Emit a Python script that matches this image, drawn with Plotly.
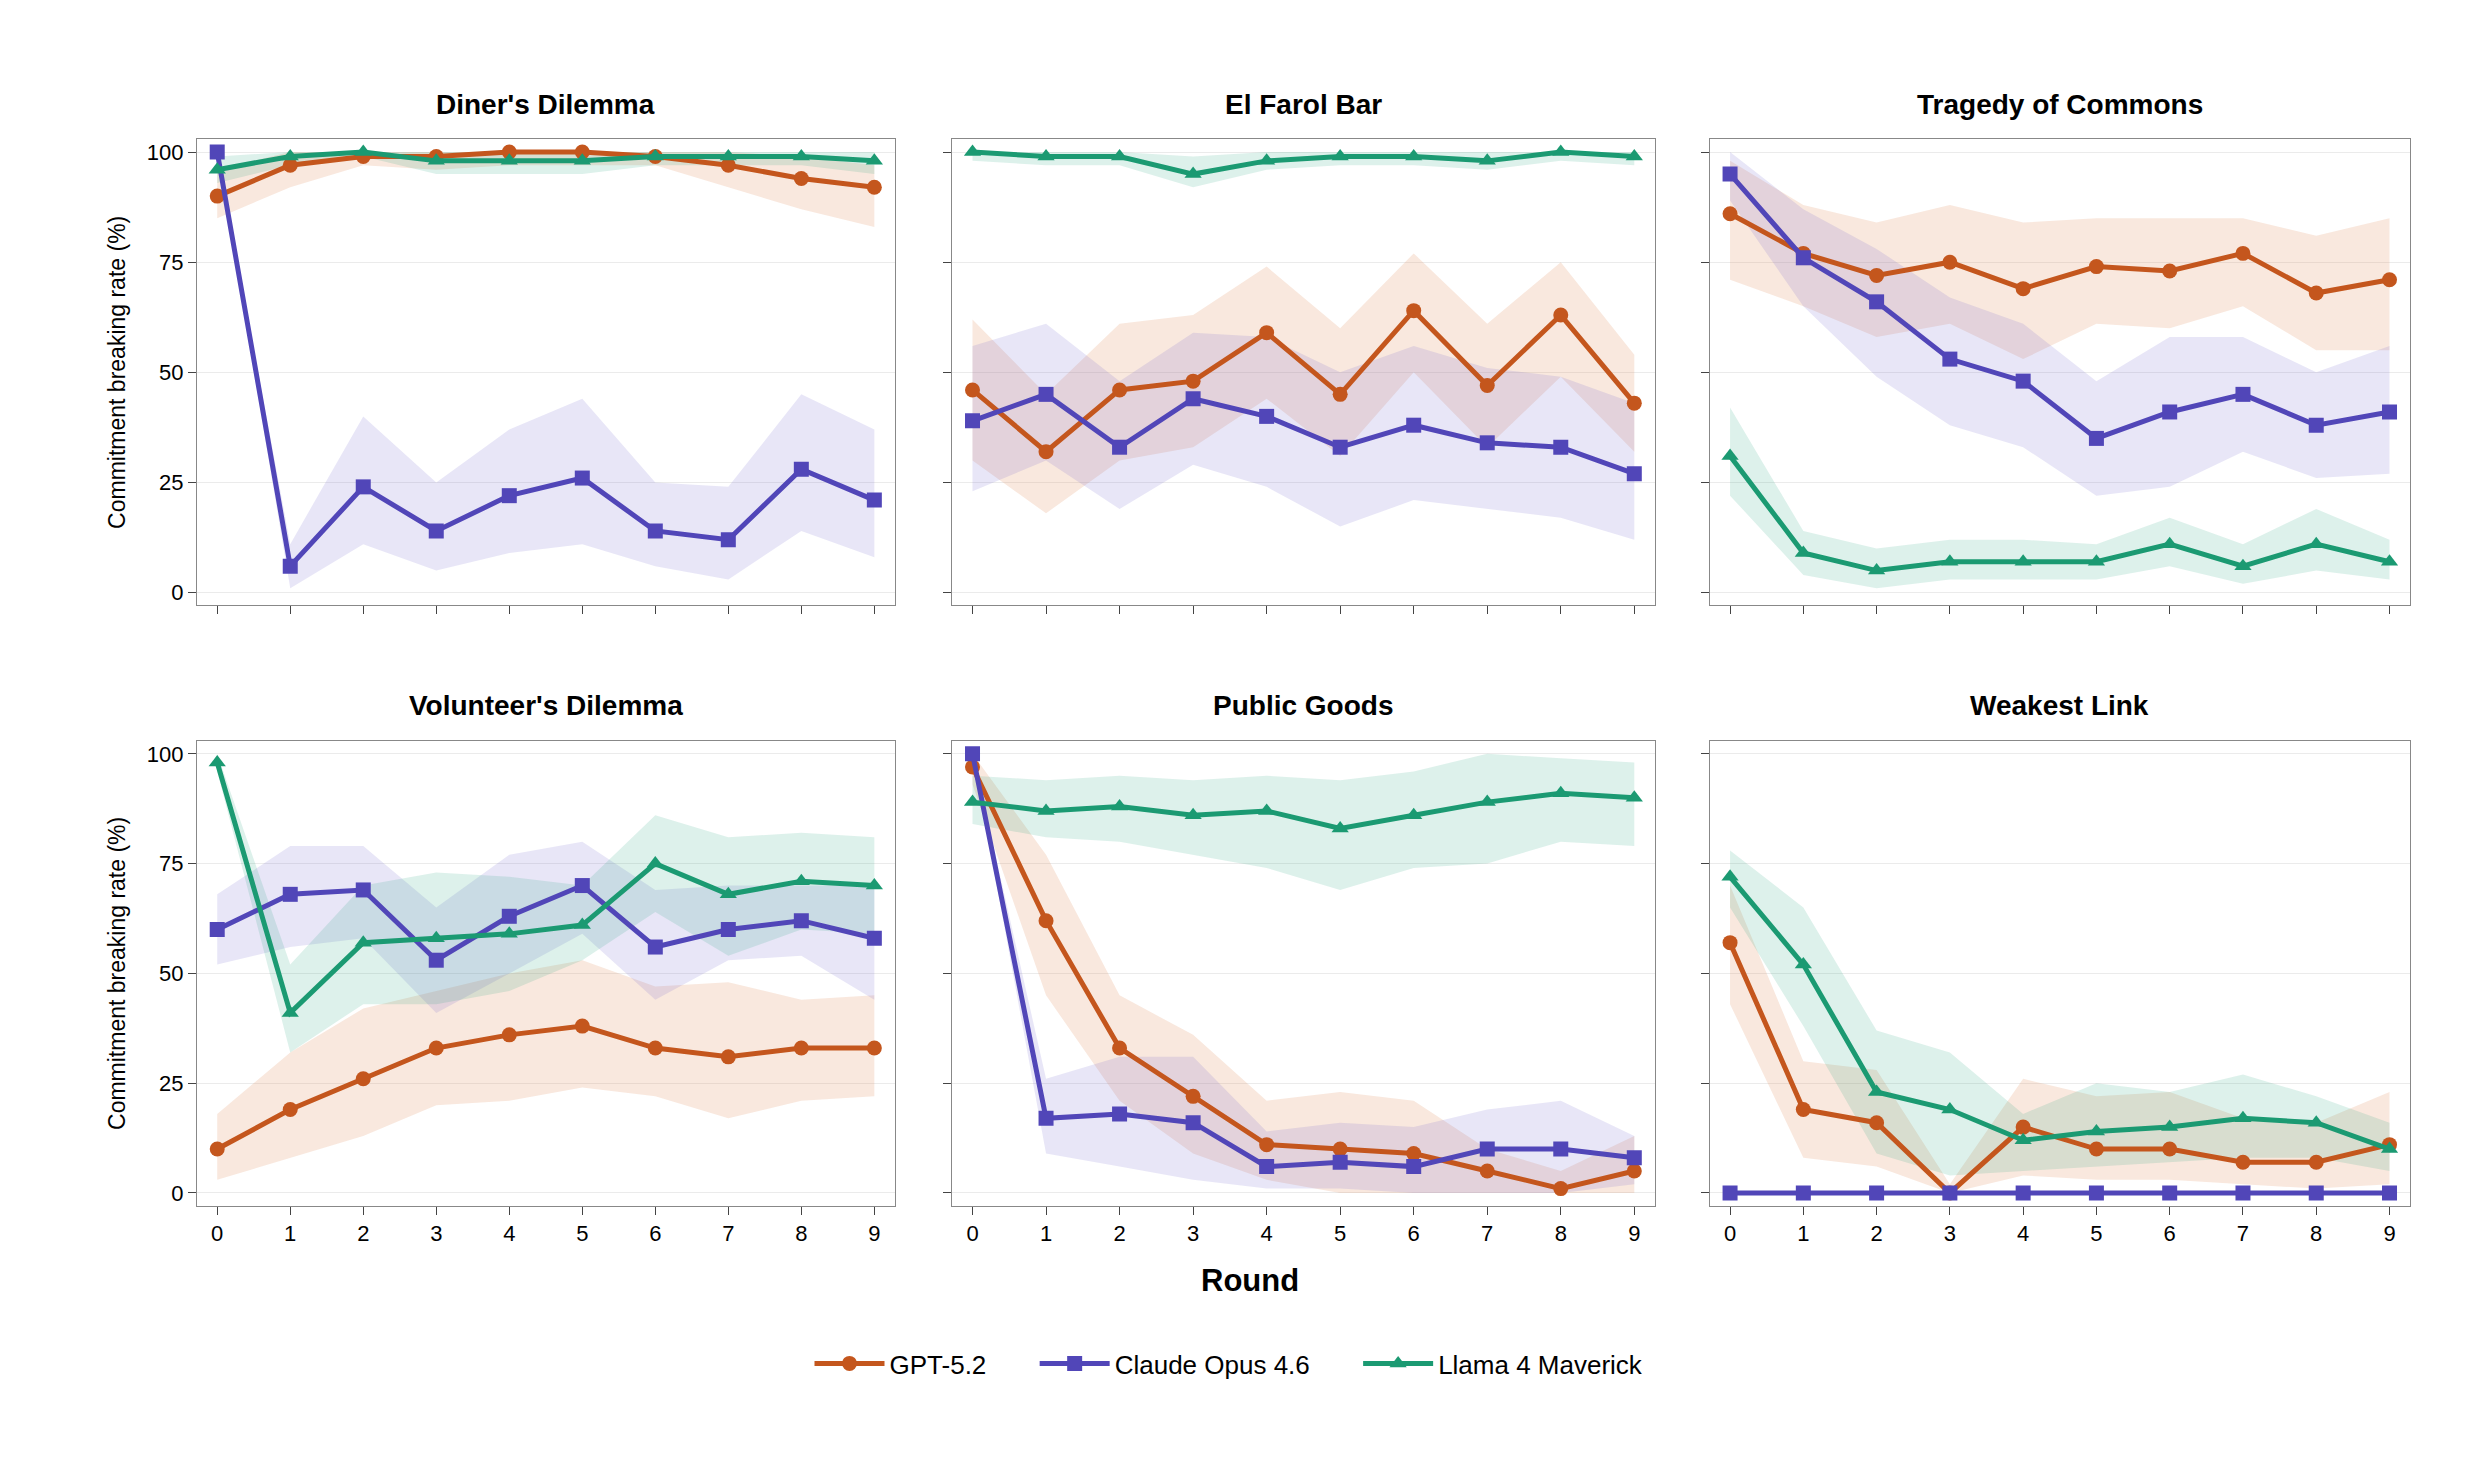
import plotly.graph_objects as go
from plotly.subplots import make_subplots

ROUNDS = list(range(10))
GAMES = ["Diner's Dilemma", "El Farol Bar", "Tragedy of Commons",
         "Volunteer's Dilemma", "Public Goods", "Weakest Link"]
MODELS = ["GPT-5.2", "Claude Opus 4.6", "Llama 4 Maverick"]

# mean, lower band, upper band per game (order of GAMES)
gpt_mean = [[90, 97, 99, 99, 100, 100, 99, 97, 94, 92],
            [46, 32, 46, 48, 59, 45, 64, 47, 63, 43],
            [86, 77, 72, 75, 69, 74, 73, 77, 68, 71],
            [10, 19, 26, 33, 36, 38, 33, 31, 33, 33],
            [97, 62, 33, 22, 11, 10, 9, 5, 1, 5],
            [57, 19, 16, 0, 15, 10, 10, 7, 7, 11]]
gpt_lo = [[85, 92, 97, 96, 97, 97, 97, 92, 87, 83],
          [30, 18, 30, 33, 44, 31, 50, 33, 49, 32],
          [71, 65, 58, 61, 53, 61, 60, 65, 55, 55],
          [3, 8, 13, 20, 21, 24, 22, 17, 21, 22],
          [93, 45, 21, 9, 3, 0, 0, 0, 0, 0],
          [43, 8, 6, 0, 4, 3, 3, 2, 1, 2]]
gpt_hi = [[96, 100, 100, 100, 100, 100, 100, 100, 99, 97],
          [62, 45, 61, 63, 74, 60, 77, 61, 75, 54],
          [98, 88, 84, 88, 84, 85, 85, 85, 81, 85],
          [18, 32, 42, 46, 50, 53, 47, 48, 44, 45],
          [100, 77, 45, 36, 21, 23, 21, 10, 5, 13],
          [70, 30, 28, 2, 26, 22, 23, 17, 16, 23]]

claude_mean = [[100, 6, 24, 14, 22, 26, 14, 12, 28, 21],
               [39, 45, 33, 44, 40, 33, 38, 34, 33, 27],
               [95, 76, 66, 53, 48, 35, 41, 45, 38, 41],
               [60, 68, 69, 53, 63, 70, 56, 60, 62, 58],
               [100, 17, 18, 16, 6, 7, 6, 10, 10, 8],
               [0, 0, 0, 0, 0, 0, 0, 0, 0, 0]]
claude_lo = [[100, 1, 11, 5, 9, 11, 6, 3, 14, 8],
             [23, 30, 19, 29, 24, 15, 21, 19, 17, 12],
             [89, 65, 49, 38, 33, 22, 24, 32, 26, 27],
             [52, 56, 58, 41, 50, 59, 44, 53, 54, 44],
             [100, 9, 6, 3, 1, 1, 0, 0, 0, 2],
             [0, 0, 0, 0, 0, 0, 0, 0, 0, 0]]
claude_hi = [[100, 11, 40, 25, 37, 44, 25, 24, 45, 37],
             [56, 61, 48, 59, 58, 50, 56, 51, 49, 43],
             [100, 87, 78, 67, 61, 48, 58, 58, 50, 56],
             [68, 79, 79, 65, 77, 80, 69, 70, 70, 70],
             [100, 26, 31, 31, 14, 16, 15, 19, 21, 13],
             [0, 0, 0, 0, 0, 0, 0, 0, 0, 0]]

llama_mean = [[96, 99, 100, 98, 98, 98, 99, 99, 99, 98],
              [100, 99, 99, 95, 98, 99, 99, 98, 100, 99],
              [31, 9, 5, 7, 7, 7, 11, 6, 11, 7],
              [98, 41, 57, 58, 59, 61, 75, 68, 71, 70],
              [89, 87, 88, 86, 87, 83, 86, 89, 91, 90],
              [72, 52, 23, 19, 12, 14, 15, 17, 16, 10]]
llama_lo = [[93, 97, 99, 95, 95, 95, 97, 97, 97, 95],
            [98, 97, 97, 92, 96, 97, 97, 96, 98, 97],
            [22, 4, 1, 3, 3, 3, 6, 2, 5, 3],
            [96, 32, 43, 43, 46, 53, 64, 54, 60, 59],
            [84, 81, 80, 77, 74, 69, 74, 75, 80, 79],
            [65, 38, 9, 4, 5, 6, 7, 8, 8, 5]]
llama_hi = [[99, 100, 100, 100, 100, 100, 100, 100, 100, 100],
            [100, 100, 100, 99, 100, 100, 100, 100, 100, 100],
            [42, 14, 10, 12, 12, 11, 17, 11, 19, 12],
            [100, 52, 70, 73, 72, 70, 86, 81, 82, 81],
            [95, 94, 95, 94, 95, 94, 96, 100, 99, 98],
            [78, 65, 37, 32, 18, 25, 23, 27, 22, 16]]

series = [
    (MODELS[0], gpt_mean, gpt_lo, gpt_hi, '#C4561D', 'rgba(226,140,90,0.20)', 'circle'),
    (MODELS[1], claude_mean, claude_lo, claude_hi, '#5146B8', 'rgba(110,100,205,0.16)', 'square'),
    (MODELS[2], llama_mean, llama_lo, llama_hi, '#1B9A72', 'rgba(27,158,119,0.15)', 'triangle-up'),
]

fig = make_subplots(rows=2, cols=3)
xdom = [(0.076, 0.357), (0.380, 0.663), (0.685, 0.967)]
ydom = [(0.595, 0.911), (0.188, 0.503)]

for g, game in enumerate(GAMES):
    r, c = g // 3 + 1, g % 3 + 1
    for name, mean, lo, hi, color, fill, sym in series:
        fig.add_trace(go.Scatter(x=ROUNDS, y=lo[g], mode='lines', line=dict(width=0),
                                 showlegend=False, hoverinfo='skip'), row=r, col=c)
        fig.add_trace(go.Scatter(x=ROUNDS, y=hi[g], mode='lines', line=dict(width=0),
                                 fill='tonexty', fillcolor=fill, showlegend=False,
                                 hoverinfo='skip'), row=r, col=c)
    for name, mean, lo, hi, color, fill, sym in series:
        fig.add_trace(go.Scatter(x=ROUNDS, y=mean[g], mode='lines+markers', name=name + '      ',
                                 line=dict(color=color, width=5),
                                 marker=dict(symbol=sym, size=15, color=color),
                                 showlegend=(g == 0), legendgroup=name), row=r, col=c)
    fig.add_annotation(text=f'<b>{game}</b>', x=sum(xdom[c - 1]) / 2, y=ydom[r - 1][1] + 0.012,
                       xref='paper', yref='paper', xanchor='center', yanchor='bottom',
                       showarrow=False, font=dict(size=28, color='black'))
    fig.update_xaxes(domain=xdom[c - 1], range=[-0.28, 9.28], tickvals=ROUNDS,
                     showticklabels=(r == 2), ticks='outside', ticklen=8,
                     showline=True, linecolor='#888', mirror=True, showgrid=False,
                     zeroline=False, row=r, col=c)
    fig.update_yaxes(domain=ydom[r - 1], range=[-2.9, 102.9], tickvals=[0, 25, 50, 75, 100],
                     showticklabels=(c == 1), ticks='outside', ticklen=8,
                     showline=True, linecolor='#888', mirror=True,
                     gridcolor='#ebebeb', zeroline=False, row=r, col=c)
    if c == 1:
        fig.update_yaxes(title=dict(text='Commitment breaking rate (%)', font=dict(size=23), standoff=14),
                         row=r, col=c)

fig.add_annotation(text='<b>Round</b>', x=0.5, y=0.124, xref='paper', yref='paper',
                   showarrow=False, font=dict(size=31, color='black'))

fig.update_layout(width=2484, height=1475, plot_bgcolor='white', paper_bgcolor='white',
                  font=dict(family='Liberation Sans, Arial, sans-serif', size=22, color='black'),
                  margin=dict(l=0, r=0, t=0, b=0),
                  legend=dict(orientation='h', x=0.5, y=0.081, xanchor='center', yanchor='middle',
                              font=dict(size=26), itemwidth=70, tracegroupgap=0))

fig.write_html("out.html")
